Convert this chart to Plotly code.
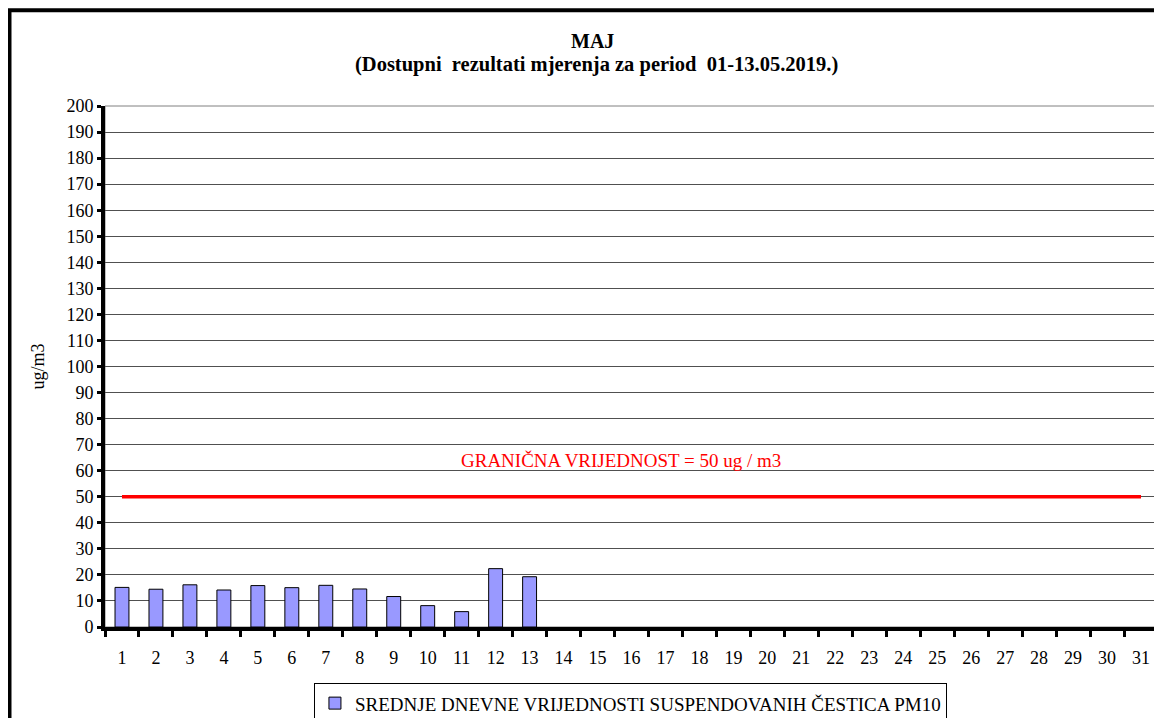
import plotly.graph_objects as go

days = [str(d) for d in range(1, 32)]
pm10 = [15.2, 14.5, 16.2, 14.2, 15.9, 15.1, 16.0, 14.6, 11.7, 8.2, 5.9, 22.4, 19.3]
limit = [50] * 31
y_ticks = list(range(0, 201, 10))

serif = "Liberation Serif, Times New Roman, serif"

fig = go.Figure()

fig.add_trace(go.Bar(
    x=days[:len(pm10)],
    y=pm10,
    name="SREDNJE DNEVNE VRIJEDNOSTI SUSPENDOVANIH ČESTICA PM10",
    marker=dict(color="#9999FF", line=dict(color="black", width=1)),
))

fig.add_trace(go.Scatter(
    x=days,
    y=limit,
    mode="lines",
    line=dict(color="#FF0000", width=3.5),
    showlegend=False,
    hoverinfo="skip",
))

fig.add_annotation(
    x=0.49, xref="x domain", y=63.8, yref="y",
    text="GRANIČNA VRIJEDNOST = 50 ug / m3",
    showarrow=False,
    font=dict(family=serif, size=19, color="#FF0000"),
)

# title lines
fig.add_annotation(
    x=0.4634, xref="paper", y=1.125, yref="paper", yanchor="middle",
    text="<b>MAJ</b>", showarrow=False,
    font=dict(family=serif, size=20, color="black"),
)
fig.add_annotation(
    x=0.467, xref="paper", y=1.079, yref="paper", yanchor="middle",
    text="<b>(Dostupni  rezultati mjerenja za period  01-13.05.2019.)</b>",
    showarrow=False,
    font=dict(family=serif, size=20.5, color="black"),
)

# plot area border (gray) and outer frame
fig.add_shape(type="rect", xref="x domain", yref="y domain",
              x0=0, x1=1, y0=0, y1=1,
              line=dict(color="#808080", width=1), layer="below")
fig.add_shape(type="rect", xref="paper", yref="paper",
              x0=-0.0907, x1=1.2, y0=-0.5, y1=1.184,
              line=dict(color="black", width=4))

fig.update_layout(
    width=1162, height=718,
    margin=dict(l=97, r=12, t=98, b=99, autoexpand=False),
    paper_bgcolor="white",
    plot_bgcolor="white",
    font=dict(family=serif, size=19, color="black"),
    bargap=0.59,
    legend=dict(
        orientation="h",
        x=0.499, xanchor="center",
        y=-0.108, yanchor="top",
        bordercolor="black", borderwidth=1,
        itemwidth=30,
        font=dict(family=serif, size=19),
    ),
    showlegend=True,
)

fig.update_xaxes(
    type="category",
    categoryorder="array", categoryarray=days,
    range=[-0.5, 30.5],
    automargin=False,
    showline=True, linecolor="black", linewidth=4,
    ticks="outside", tickson="boundaries", ticklen=6, tickwidth=3, tickcolor="black",
    ticklabelstandoff=11,
    showgrid=False,
    tickfont=dict(family=serif, size=18),
)

fig.update_yaxes(
    range=[0, 200],
    tickvals=y_ticks,
    automargin=False,
    showline=True, linecolor="black", linewidth=4,
    ticks="outside", ticklen=4, tickwidth=3, tickcolor="black",
    showgrid=True, gridcolor="#505050", gridwidth=1,
    zeroline=False,
    tickfont=dict(family=serif, size=18),
    title=dict(text="ug/m3", font=dict(family=serif, size=18), standoff=18),
)

fig.write_html("out.html")
